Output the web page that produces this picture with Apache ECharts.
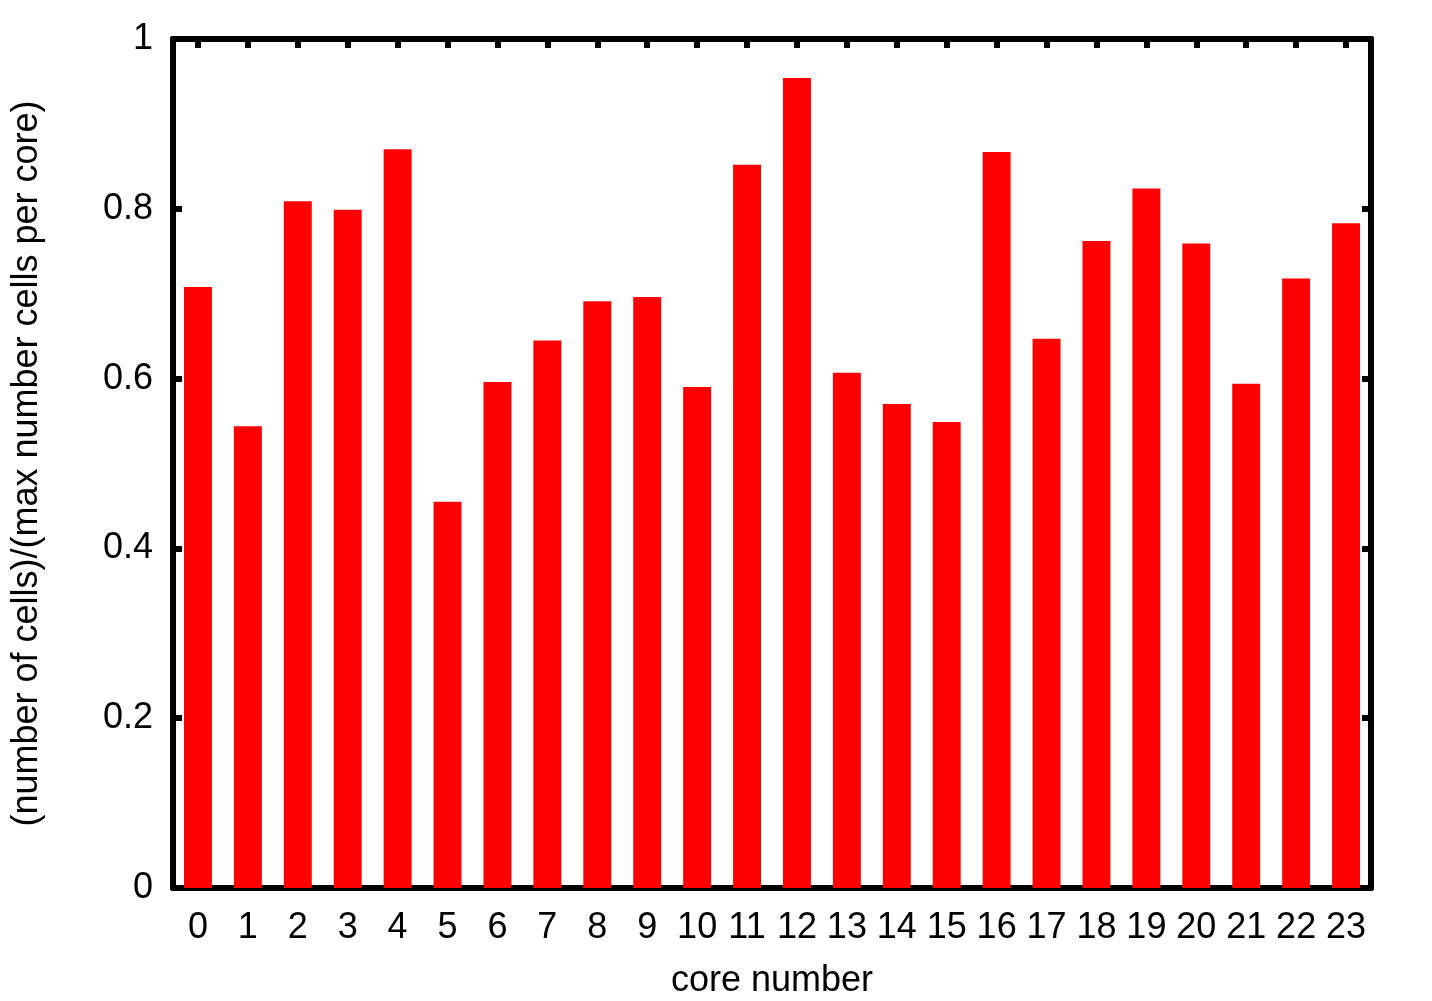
<!DOCTYPE html>
<html>
<head>
<meta charset="utf-8">
<script src="https://cdn.jsdelivr.net/npm/echarts@6/dist/echarts.min.js"></script>
<style>
html,body{margin:0;padding:0;background:#fff;}
#chart{width:1432px;height:1001px;}
</style>
</head>
<body>
<div id="chart"></div>
<script>
const categories = ['0','1','2','3','4','5','6','7','8','9','10','11','12','13','14','15','16','17','18','19','20','21','22','23'];
const values = [0.708,0.544,0.809,0.799,0.870,0.455,0.596,0.645,0.691,0.696,0.590,0.852,0.954,0.607,0.570,0.549,0.867,0.647,0.762,0.824,0.759,0.594,0.718,0.783];
const yTickLabels = {0:'0',0.2:'0.2',0.4:'0.4',0.6:'0.6',0.8:'0.8',1:'1'};
const xName = 'core number';
const yName = '(number of cells)/(max number cells per core)';

const font = 'Liberation Sans, Arial, Helvetica, sans-serif';
const lineW = 6;
const fs = 36;
const chart = echarts.init(document.getElementById('chart'));
chart.setOption({
  animation: false,
  backgroundColor: '#fff',
  grid: {left: 173, right: 61, top: 39, bottom: 113, containLabel: false, outerBoundsMode: 'none'},
  xAxis: [{
    type: 'category', data: categories, position: 'bottom',
    name: xName, nameLocation: 'middle', nameGap: 75,
    nameTextStyle: {color: '#000', fontSize: fs, fontFamily: font},
    axisLine: {show: true, onZero: false, lineStyle: {color: '#000', width: lineW}},
    axisTick: {show: false},
    axisLabel: {color: '#000', fontSize: fs, fontFamily: font, margin: 22, interval: 0},
    splitLine: {show: false}
  }, {
    type: 'category', data: categories, position: 'top',
    axisLine: {show: true, onZero: false, lineStyle: {color: '#000', width: lineW}},
    axisTick: {show: true, inside: true, alignWithLabel: true, length: 9, lineStyle: {color: '#000', width: lineW}},
    axisLabel: {show: false},
    splitLine: {show: false}
  }],
  yAxis: [{
    type: 'value', min: 0, max: 1, interval: 0.2, position: 'left',
    name: yName, nameLocation: 'middle', nameGap: 128,
    nameTextStyle: {color: '#000', fontSize: fs, fontFamily: font},
    axisLine: {show: true, onZero: false, lineStyle: {color: '#000', width: lineW}},
    axisTick: {show: true, inside: true, length: 9, lineStyle: {color: '#000', width: lineW}},
    axisLabel: {color: '#000', fontSize: fs, fontFamily: font, margin: 20,
      formatter: v => { const k = Math.round(v*10)/10; return yTickLabels[k] !== undefined ? yTickLabels[k] : String(k); }},
    splitLine: {show: false}
  }, {
    type: 'value', min: 0, max: 1, interval: 0.2, position: 'right',
    axisLine: {show: true, onZero: false, lineStyle: {color: '#000', width: lineW}},
    axisTick: {show: true, inside: true, length: 9, lineStyle: {color: '#000', width: lineW}},
    axisLabel: {show: false},
    splitLine: {show: false}
  }],
  series: [{
    type: 'bar', data: values, xAxisIndex: 0, yAxisIndex: 0,
    barWidth: '56%',
    itemStyle: {color: '#ff0000'},
    z: 1
  }]
});
</script>
</body>
</html>
